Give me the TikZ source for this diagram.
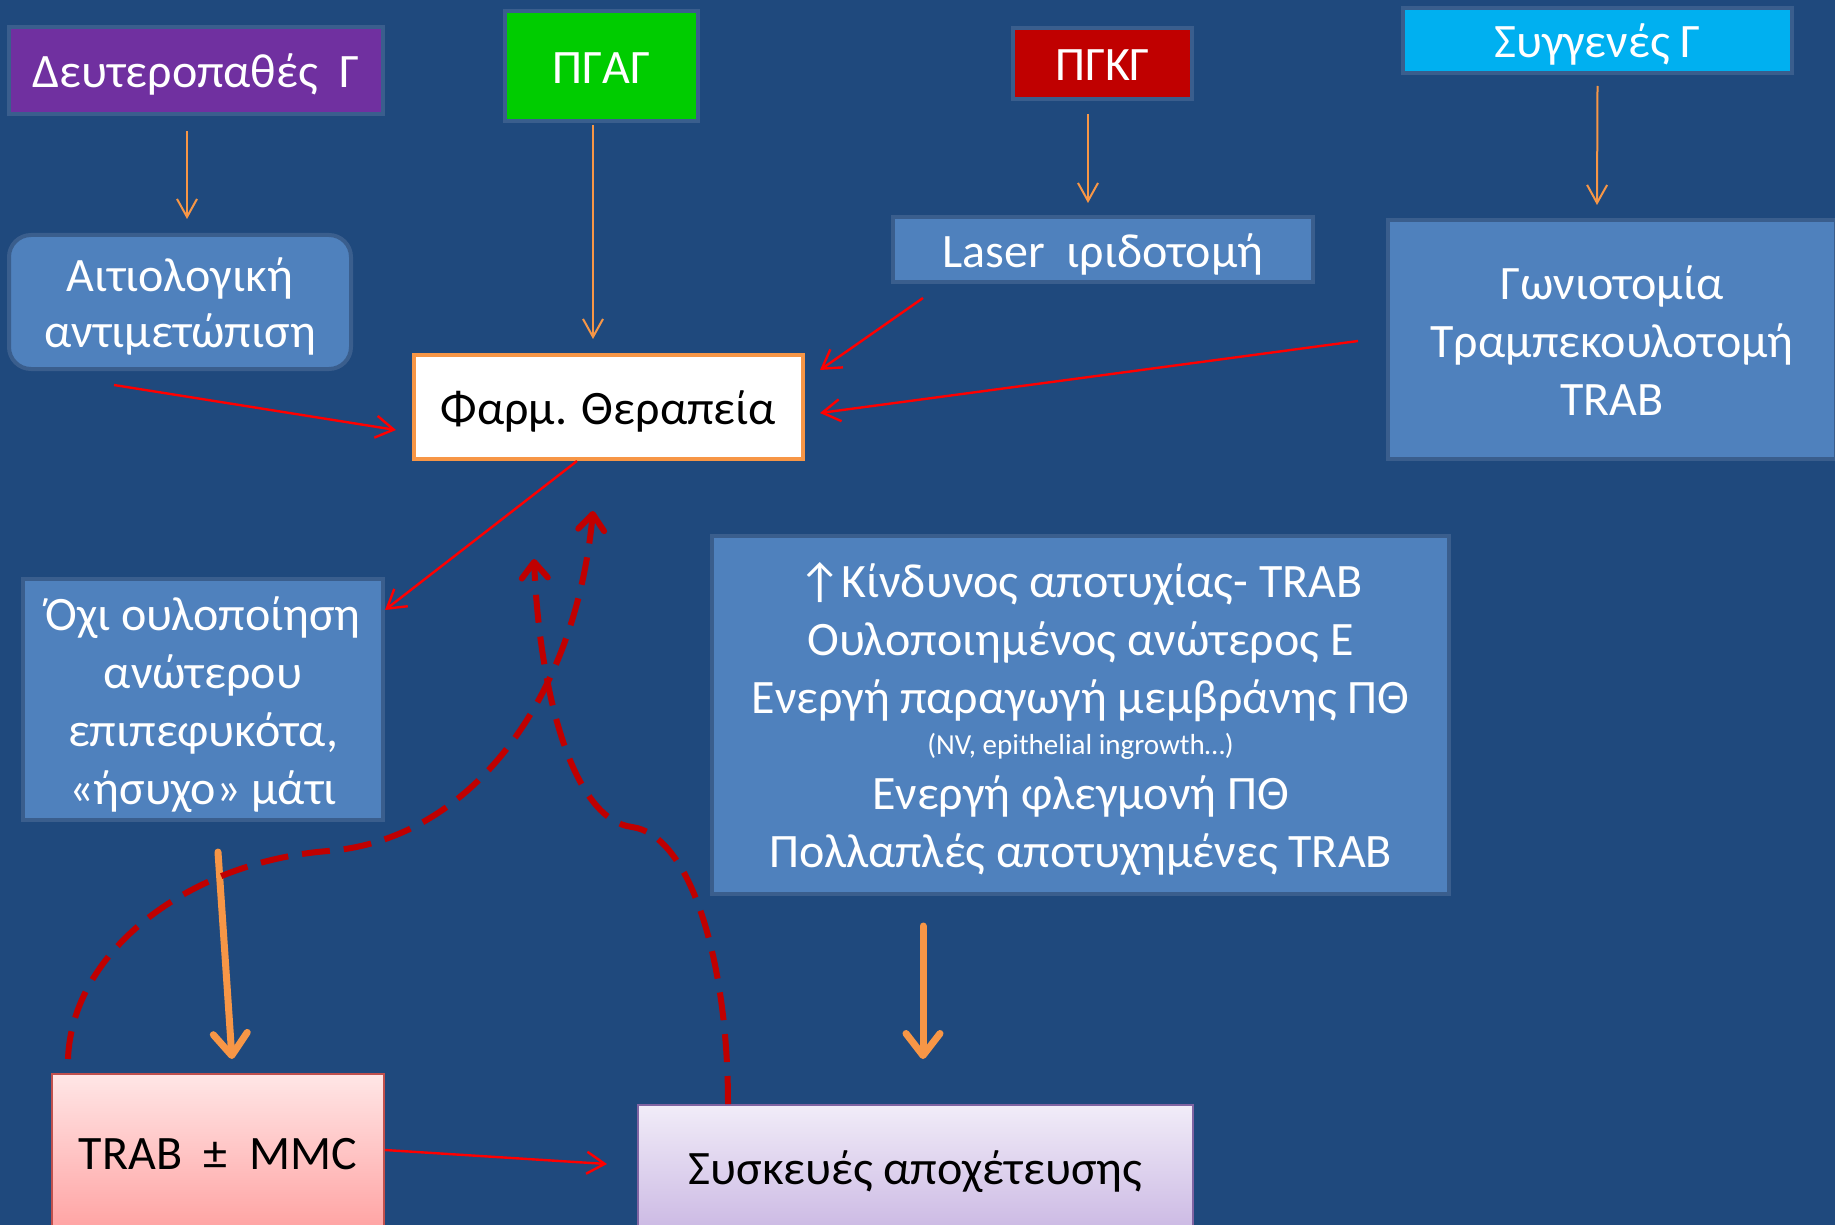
\documentclass[tikz,border=0pt]{standalone}
\usepackage{fontspec}
\setmainfont{Carlito}
\usetikzlibrary{arrows.meta,calc}
\definecolor{bg}{HTML}{1F497D}
\definecolor{boxline}{HTML}{3A5E8D}
\definecolor{boxblue}{HTML}{4F81BD}
\definecolor{purp}{HTML}{7030A0}
\definecolor{grn}{HTML}{00CC00}
\definecolor{dred}{HTML}{C00000}
\definecolor{cyanb}{HTML}{00B0F0}
\definecolor{orA}{HTML}{F79646}
\definecolor{pinkT}{HTML}{FFE6E6}
\definecolor{pinkB}{HTML}{FFA3A3}
\definecolor{pinkL}{HTML}{C0504D}
\definecolor{lavT}{HTML}{F1ECF8}
\definecolor{lavB}{HTML}{CCBAE4}
\definecolor{lavL}{HTML}{8064A2}
\newcommand\topst{\rule{0pt}{25pt}}
\newcommand\botst{\rule[-7.5pt]{0pt}{7.5pt}}
\begin{document}
\begin{tikzpicture}[x=0.5pt,y=-0.5pt,
  box/.style={draw=boxline, line width=2pt, inner sep=0pt, align=center, text=white,
              font=\fontsize{24}{29}\selectfont},
  bluebox/.style={box, fill=boxblue},
  thinarrow/.style={draw=orA, line width=1pt, -{Straight Barb[length=9pt,width=10pt]}},
  redarrow/.style={draw=red, line width=1.2pt, -{Straight Barb[length=9pt,width=11pt]}},
  thickarrow/.style={draw=orA, line width=3.5pt, line cap=round, -{Straight Barb[length=11pt,width=17pt,round]}},
  dasharrow/.style={draw=dred, line width=3pt, dash pattern=on 14pt off 7pt, -{Straight Barb[length=8pt,width=13pt,round]}}
]
\fill[bg] (0,0) rectangle (1835,1225);
\useasboundingbox (0,0) rectangle (1835,1225);

% nodes
\node[box, fill=purp, minimum width=187pt, minimum height=43.5pt] (deut) at (196,70.5) {\topst Δευτεροπαθές~~Γ\botst};
\node[bluebox, rounded corners=11pt, minimum width=171pt, minimum height=67pt, font=\fontsize{24}{28}\selectfont] (aitio) at (180,302) {\topst Αιτιολογική\\αντιμετώπιση\botst};
\node[box, fill=grn, minimum width=96.5pt, minimum height=55pt] (pgag) at (601.5,66) {\topst ΠΓΑΓ\botst};
\node[box, fill=white, draw=orA, text=black, minimum width=194.5pt, minimum height=52pt] (farm) at (608.5,407) {\topst Φαρμ. Θεραπεία\botst};
\node[box, fill=dred, minimum width=89.5pt, minimum height=35.5pt] (pgkg) at (1102.5,63.5) {\topst ΠΓΚΓ\botst};
\node[bluebox, minimum width=210pt, minimum height=30.5pt] (laser) at (1103,249.5) {\topst Laser~~ιριδοτομή\botst};
\node[box, fill=cyanb, minimum width=194.5pt, minimum height=30.5pt] (syg) at (1597.5,40.5) {\topst Συγγενές Γ\botst};
\node[bluebox, minimum width=224pt, minimum height=119.5pt] (gonio) at (1612,339.5) {\topst Γωνιοτομία\\Τραμπεκουλοτομή\\TRAB\botst};
\node[bluebox, minimum width=180pt, minimum height=120.5pt] (ochi) at (203,699.5) {\topst Όχι ουλοποίηση\\ανώτερου\\επιπεφυκότα,\\«ήσυχο» μάτι\botst};
\node[bluebox, minimum width=368.5pt, minimum height=179pt] (info) at (1080.5,715) {\topst ↑Κίνδυνος αποτυχίας- TRAB\\Ουλοποιημένος ανώτερος Ε\\Ενεργή παραγωγή μεμβράνης ΠΘ\\[-8.5pt]{\fontsize{14.5}{16}\selectfont (NV, epithelial ingrowth…)}\\[-1.5pt]Ενεργή φλεγμονή ΠΘ\\Πολλαπλές αποτυχημένες TRAB\botst};
\node[box, draw=pinkL, line width=1pt, top color=pinkT, bottom color=pinkB, text=black, minimum width=166pt, minimum height=78pt] (trab) at (218,1152) {\topst TRAB~~±~~MMC\botst};
\node[box, draw=lavL, line width=1pt, top color=lavT, bottom color=lavB, text=black, minimum width=277.5pt, minimum height=62pt] (sysk) at (915.5,1167) {\topst Συσκευές αποχέτευσης\botst};

% thin orange arrows
\draw[thinarrow] ($(deut.south)+(-9,15)$) -- ($(aitio.north)+(7,-14)$);
\draw[thinarrow] ($(pgag.south)+(-8.5,2)$) -- ($(farm.north)+(-15.5,-14)$);
\draw[thinarrow] ($(pgkg.south)+(-14.5,13)$) -- ($(laser.north)+(-15,-12)$);
\draw[thinarrow] ($(syg.south)+(0,11)$) -- ($(gonio.north)+(-15,-13)$);

% red arrows
\draw[redarrow] ($(aitio.south)+(-66,14)$) -- ($(farm.west)+(-16,23)$);
\draw[redarrow] ($(laser.south west)+(32,14)$) -- ($(farm.north east)+(15,17)$);
\draw[redarrow] ($(gonio.west)+(-28,1.5)$) -- ($(farm.east)+(15,6)$);
\draw[redarrow] ($(farm.south)+(-31.5,0)$) -- ($(ochi.north east)+(0,33)$);
\draw[redarrow] ($(trab.east)+(0,-2)$) -- ($(sysk.west)+(-30,-3)$);

% thick orange arrows
\draw[thickarrow] ($(ochi.south)+(15,30)$) -- ($(trab.north)+(14,-14)$);
\draw[thickarrow] ($(info.south)+(-157.5,30)$) -- ($(sysk.north)+(7.5,-45)$);

% dashed feedback arrows
\draw[dasharrow] ($(trab.north west)+(17,-14)$) .. controls (72,950) and (190,862) .. (328,851)
   .. controls (470,840) and (575,700) .. ($(farm.south)+(-15.5,50)$);
\draw[dasharrow] ($(sysk.north west)+(91,0)$) .. controls (728,960) and (690,835) .. (632,827)
   .. controls (575,820) and (540,700) .. ($(farm.south)+(-74.5,98)$);
\end{tikzpicture}
\end{document}
